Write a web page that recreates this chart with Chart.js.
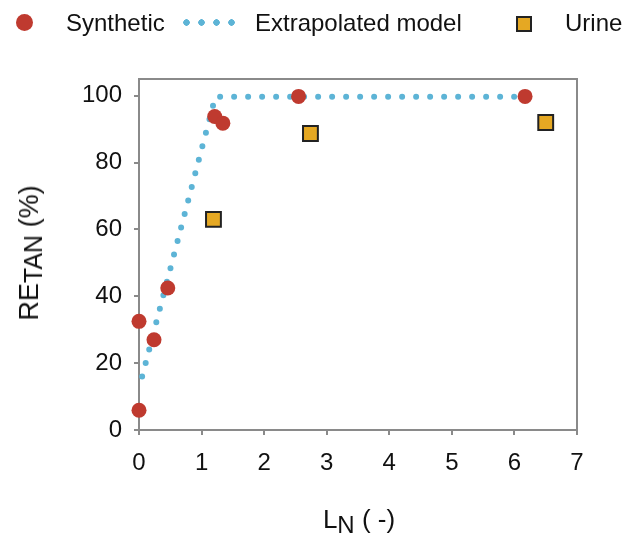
<!DOCTYPE html>
<html>
<head>
<meta charset="utf-8">
<script src="https://cdn.jsdelivr.net/npm/chart.js@4/dist/chart.umd.min.js"></script>
<style>
  html, body { margin: 0; padding: 0; background: #fff; }
  #wrap { position: relative; width: 633px; height: 541px; font-family: 'Liberation Sans', Arial, sans-serif; color: #111; }
  canvas { position: absolute; left: 0; top: 0; }
  .lg { position: absolute; top: 8px; height: 30px; line-height: 30px; font-size: 24px; white-space: nowrap; }
  .mk { position: absolute; }
  #ytitle { position: absolute; left: 31px; top: 253px; transform: translate(-50%, -50%) rotate(-90deg); font-size: 27px; white-space: nowrap; }
  #ytitle sub { font-size: 25px; vertical-align: -4px; }
  #xtitle { position: absolute; left: 359px; top: 521px; transform: translate(-50%, -50%); font-size: 26px; white-space: nowrap; }
  #xtitle sub { font-size: 24px; vertical-align: -5px; }
</style>
</head>
<body>
<div id="wrap">
  <canvas id="c" width="633" height="541"></canvas>
  <div class="mk" style="left:16px;top:14px;width:17px;height:17px;border-radius:50%;background:#BF3A2F;"></div>
  <div class="lg" style="left:66px;">Synthetic</div>
  <div class="mk" style="left:183px;top:19px;width:58px;height:7px;background:radial-gradient(circle at 3.5px 3.5px, #5DB4D6 3px, transparent 3.5px) 0 0 / 15px 7px repeat-x;"></div>
  <div class="lg" style="left:255px;">Extrapolated model</div>
  <div class="mk" style="left:516px;top:16px;width:12px;height:12px;background:#E5A823;border:2px solid #222;"></div>
  <div class="lg" style="left:565px;">Urine</div>
  <div id="ytitle">RE<sub>TAN</sub> (%)</div>
  <div id="xtitle">L<sub>N</sub> ( -)</div>
</div>
<script>
const synthX = [0, 0, 0.24, 0.46, 1.21, 1.34, 2.55, 6.17];
const synthY = [32.5, 5.9, 27, 42.5, 93.8, 91.8, 99.8, 99.8];
const modelX = [0.05, 1.22, 6.37];
const modelY = [16, 99.7, 99.7];
const urineX = [1.19, 2.74, 6.5];
const urineY = [63, 88.7, 92];
const xTicks = [0, 1, 2, 3, 4, 5, 6, 7];
const yTicks = [0, 20, 40, 60, 80, 100];

const zip = (xs, ys) => xs.map((x, i) => ({ x: x, y: ys[i] }));
const AXIS = '#8a8a8a';

const frame = {
  id: 'frame',
  beforeDatasetsDraw(chart) {
    const a = chart.chartArea, ctx = chart.ctx;
    ctx.save();
    ctx.strokeStyle = AXIS;
    ctx.lineWidth = 2;
    ctx.strokeRect(a.left, a.top, a.right - a.left, a.bottom - a.top);
    ctx.restore();
  }
};

new Chart(document.getElementById('c'), {
  type: 'scatter',
  data: {
    datasets: [
      { label: 'Synthetic', data: zip(synthX, synthY), clip: false, backgroundColor: '#BF3A2F', borderWidth: 0, pointRadius: 7.5, pointHoverRadius: 7.5 },
      { label: 'Extrapolated model', data: zip(modelX, modelY), clip: false, showLine: true, borderColor: '#5DB4D6', borderWidth: 6, borderDash: [0, 14], borderCapStyle: 'round', pointRadius: 0, fill: false },
      { label: 'Urine', data: zip(urineX, urineY), clip: false, pointStyle: 'rect', backgroundColor: '#E5A823', borderColor: '#222', borderWidth: 2, pointRadius: 10.5, pointHoverRadius: 10.5 }
    ]
  },
  options: {
    responsive: false,
    animation: false,
    devicePixelRatio: 1,
    layout: { padding: { left: 0, top: 79, right: 56, bottom: 0 } },
    plugins: { legend: { display: false }, tooltip: { enabled: false } },
    scales: {
      x: {
        type: 'linear', min: 0, max: 7,
        afterBuildTicks: s => { s.ticks = xTicks.map(v => ({ value: v })); },
        afterFit: s => { s.height = 111; },
        border: { display: false },
        grid: { drawOnChartArea: false, drawTicks: true, tickLength: 5, color: AXIS, lineWidth: 2 },
        ticks: { padding: 14, color: '#111', font: { family: 'Liberation Sans', size: 24 } }
      },
      y: {
        type: 'linear', min: 0, max: 105,
        afterBuildTicks: s => { s.ticks = yTicks.map(v => ({ value: v })); },
        afterFit: s => { s.width = 139; },
        border: { display: false },
        grid: { drawOnChartArea: false, drawTicks: true, tickLength: 5, color: AXIS, lineWidth: 2 },
        ticks: { padding: 12, color: '#111', font: { family: 'Liberation Sans', size: 24 } }
      }
    }
  },
  plugins: [frame]
});
</script>
</body>
</html>
